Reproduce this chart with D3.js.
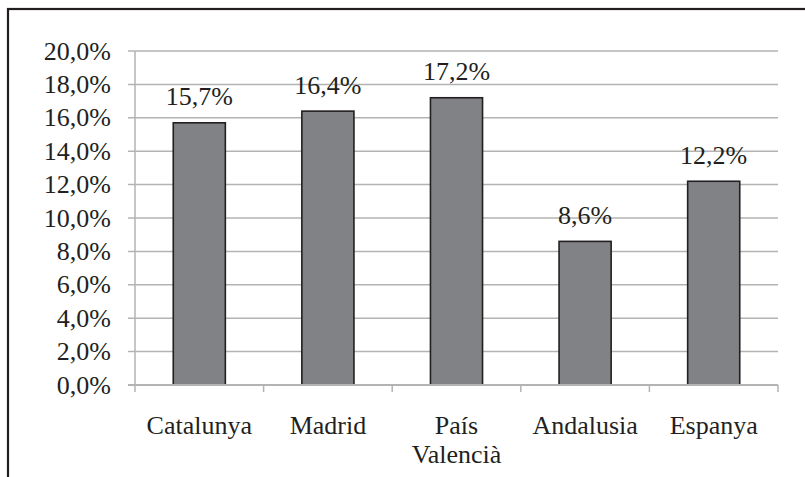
<!DOCTYPE html>
<html>
<head>
<meta charset="utf-8">
<script src="https://cdn.jsdelivr.net/npm/d3@7"></script>
<style>
  html, body { margin: 0; padding: 0; background: #fff; }
  svg { display: block; }
</style>
</head>
<body>
<div id="chart"></div>
<script>
// dati
const categories = ["Catalunya", "Madrid", "País Valencià", "Andalusia", "Espanya"];
const values = [15.7, 16.4, 17.2, 8.6, 12.2];
const tickValues = [0, 2, 4, 6, 8, 10, 12, 14, 16, 18, 20];

const width = 805, height = 477;
const fontSize = 26;
const serif = "'Liberation Serif', 'Times New Roman', serif";
const ink = "#231f20";

const svg = d3.select("#chart").append("svg")
  .attr("width", width)
  .attr("height", height);

// cornice (tagliata a destra e in basso)
svg.append("rect")
  .attr("x", 8).attr("y", 9)
  .attr("width", 900).attr("height", 600)
  .attr("fill", "none")
  .attr("stroke", ink)
  .attr("stroke-width", 2.2);

const x = d3.scaleBand().domain(categories).range([135, 778]).padding(0);
const y = d3.scaleLinear().domain([0, 20]).range([385, 51]);

const fmt = v => d3.format(".1f")(v).replace(".", ",") + "%";

// griglia
svg.append("g").selectAll("line")
  .data(tickValues.filter(d => d > 0))
  .join("line")
  .attr("x1", 128).attr("x2", 778)
  .attr("y1", d => y(d)).attr("y2", d => y(d))
  .attr("stroke", "#b3b3b3")
  .attr("stroke-width", 1.5);

// etichette asse y
svg.append("g").selectAll("text")
  .data(tickValues)
  .join("text")
  .attr("x", 111)
  .attr("y", d => y(d) + 8.5)
  .attr("text-anchor", "end")
  .attr("font-family", serif)
  .attr("font-size", fontSize)
  .attr("fill", ink)
  .text(fmt);

// barre
const bw = x.bandwidth() * 0.405;
svg.append("g").selectAll("rect")
  .data(values)
  .join("rect")
  .attr("x", (d, i) => x(categories[i]) + x.bandwidth() / 2 - bw / 2)
  .attr("y", d => y(d))
  .attr("width", bw)
  .attr("height", d => y(0) - y(d))
  .attr("fill", "#818285")
  .attr("stroke", ink)
  .attr("stroke-width", 1.6);

// assi
svg.append("line")
  .attr("x1", 135).attr("x2", 135)
  .attr("y1", y(20)).attr("y2", 392)
  .attr("stroke", "#b3b3b3").attr("stroke-width", 1.5);
svg.append("line")
  .attr("x1", 128).attr("x2", 778)
  .attr("y1", y(0)).attr("y2", y(0))
  .attr("stroke", "#b3b3b3").attr("stroke-width", 1.8);
svg.append("g").selectAll("line")
  .data(categories.slice(1).map(c => x(c)).concat([778]))
  .join("line")
  .attr("x1", d => d).attr("x2", d => d)
  .attr("y1", y(0)).attr("y2", 392)
  .attr("stroke", "#b3b3b3").attr("stroke-width", 1.5);

// etichette valori
svg.append("g").selectAll("text")
  .data(values)
  .join("text")
  .attr("x", (d, i) => x(categories[i]) + x.bandwidth() / 2)
  .attr("y", d => y(d) - 17.5)
  .attr("text-anchor", "middle")
  .attr("font-family", serif)
  .attr("font-size", fontSize)
  .attr("fill", ink)
  .text(fmt);

// etichette categorie (a capo per "País Valencià")
svg.append("g").selectAll("text")
  .data(categories)
  .join("text")
  .attr("x", d => x(d) + x.bandwidth() / 2)
  .attr("y", 434)
  .attr("text-anchor", "middle")
  .attr("font-family", serif)
  .attr("font-size", fontSize)
  .attr("fill", ink)
  .each(function(d) {
    const words = d === "País Valencià" ? d.split(" ") : [d];
    d3.select(this).selectAll("tspan")
      .data(words)
      .join("tspan")
      .attr("x", x(d) + x.bandwidth() / 2)
      .attr("dy", (w, j) => j === 0 ? 0 : 29)
      .text(w => w);
  });
</script>
</body>
</html>
